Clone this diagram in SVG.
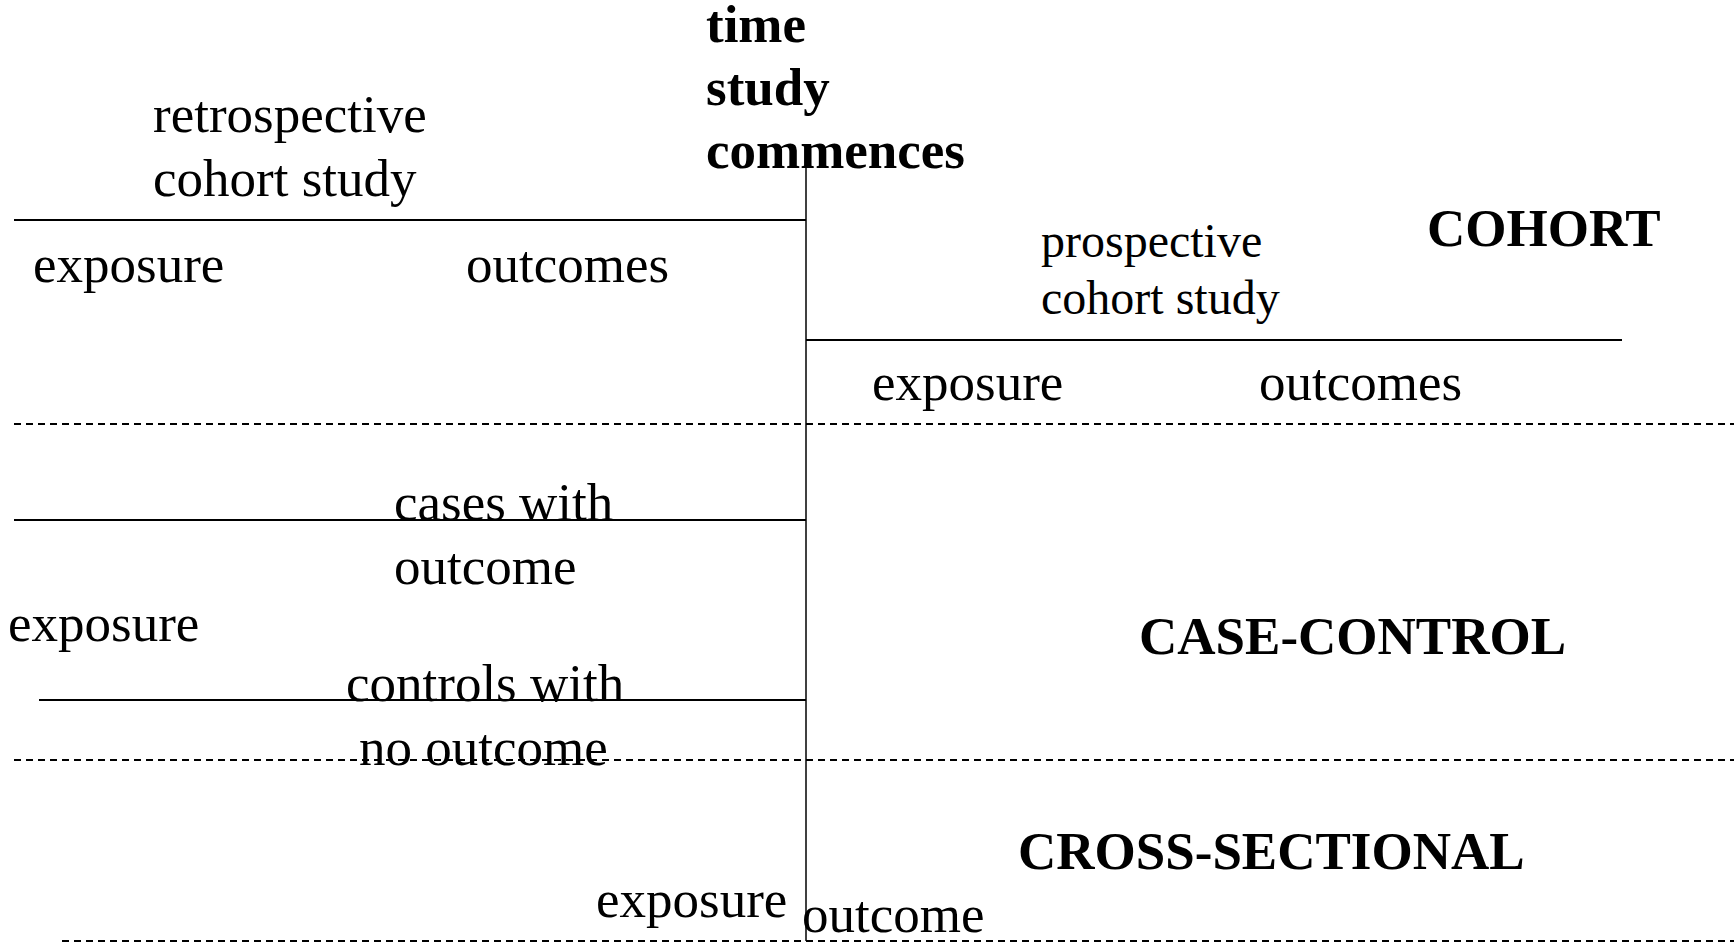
<svg xmlns="http://www.w3.org/2000/svg" width="1734" height="945" viewBox="0 0 1734 945">
<style>
text{font-family:"Liberation Serif","Times New Roman",serif;fill:#000}
.r{font-size:53px}
.s{font-size:48px}
.b{font-size:53px;font-weight:bold}
.solid{stroke:#000;stroke-width:2;fill:none}
.axis{stroke:#000;stroke-width:1.5;fill:none}
.dash{stroke:#000;stroke-width:2;stroke-dasharray:7 5;fill:none}
</style>
<rect width="1734" height="945" fill="#fff"/>
<g id="connectors">
<line class="axis" x1="806" y1="168" x2="806" y2="941"/>
<line class="solid" x1="14" y1="220" x2="806" y2="220"/>
<line class="solid" x1="806" y1="340" x2="1622" y2="340"/>
<line class="solid" x1="14" y1="520" x2="806" y2="520"/>
<line class="solid" x1="39" y1="700" x2="806" y2="700"/>
<line class="dash" x1="14" y1="424" x2="1734" y2="424"/>
<line class="dash" x1="14" y1="760" x2="1734" y2="760"/>
<line class="dash" x1="62" y1="941" x2="1734" y2="941"/>
</g>
<g id="time-study-commences">
<text class="b" x="706" y="42">time</text>
<text class="b" x="706" y="105">study</text>
<text class="b" x="706" y="168">commences</text>
</g>
<g id="retrospective">
<text class="r" x="153" y="132">retrospective</text>
<text class="r" x="153" y="196">cohort study</text>
<text class="r" x="33" y="282">exposure</text>
<text class="r" x="466" y="282">outcomes</text>
</g>
<g id="prospective">
<text class="s" x="1041" y="257">prospective</text>
<text class="s" x="1041" y="314">cohort study</text>
<text class="r" x="872" y="400">exposure</text>
<text class="r" x="1259" y="400">outcomes</text>
</g>
<g id="cohort-label"><text class="b" x="1427" y="246">COHORT</text></g>
<g id="case-control">
<text class="r" x="394" y="520">cases with</text>
<text class="r" x="394" y="584">outcome</text>
<text class="r" x="8" y="641">exposure</text>
<text class="r" x="346" y="701">controls with</text>
<text class="r" x="359" y="765">no outcome</text>
</g>
<g id="case-control-label"><text class="b" x="1139" y="654">CASE-CONTROL</text></g>
<g id="cross-sectional">
<text class="r" x="596" y="917">exposure</text>
<text class="r" x="802" y="932">outcome</text>
</g>
<g id="cross-sectional-label"><text class="b" x="1018" y="869">CROSS-SECTIONAL</text></g>
</svg>
